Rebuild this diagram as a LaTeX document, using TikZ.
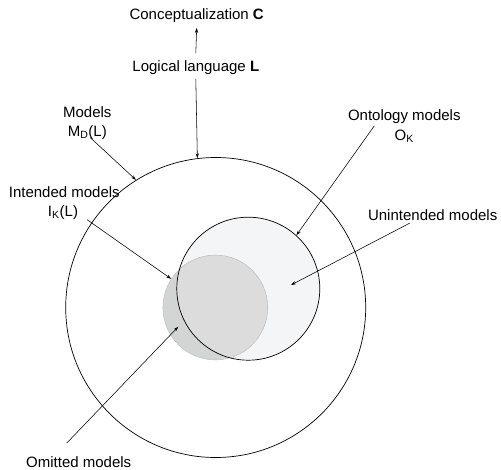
\documentclass[tikz,border=0pt]{standalone}
\usepackage{fontspec}
\setmainfont{Liberation Sans}
\usepackage{tikz}
\usetikzlibrary{arrows.meta}
\definecolor{ontofill}{RGB}{244,245,247}
\definecolor{omitfill}{RGB}{211,212,212}
\definecolor{intfill}{RGB}{220,220,220}
\definecolor{greyline}{RGB}{185,185,185}
\tikzset{lbl/.style={inner sep=0pt, outer sep=0pt, anchor=base, font=\fontsize{15}{18}\selectfont},
%thin arrows with a small filled tip
arr/.style={line width=0.55pt, -{Stealth[length=5pt,width=3.2pt]}},
ring/.style={circle, draw, line width=0.7pt, inner sep=0pt}}

\begin{document}
\begin{tikzpicture}[x=1pt,y=-1pt]
\useasboundingbox (0,0) rectangle (501,469);
% fills
\fill[ontofill] (248.3,288.7) circle (71.5pt);
\fill[omitfill] (215.3,307.5) circle (52.4pt);
\begin{scope}
  \clip (248.3,288.7) circle (71.5pt);
  \fill[intfill] (215.3,307.5) circle (52.4pt);
\end{scope}

% circles
\node[ring, minimum size=300pt] (mset) at (215.7,307.5) {};
\node[ring, draw=greyline, line width=0.4pt, minimum size=104.8pt] (ik) at (215.3,307.5) {};
\node[ring, minimum size=143pt] (onto) at (248.3,288.7) {};

%labels
\node[lbl] (concept) at (196.7,19.2) {Conceptualization \textbf{C}};
\node[lbl] (lang) at (195.8,71.7) {Logical language \textbf{L}};
\node[lbl] (mtop) at (87.3,117) {Models};
\node[lbl] (mbot) at (87.3,136) {M\textsubscript{D}(L)};
\node[lbl] (otop) at (404.3,120.7) {Ontology models};
\node[lbl] (obot) at (404.3,140.5) {O\textsubscript{K}};
\node[lbl] (itop) at (64.3,197.7) {Intended models};
\node[lbl] (ibot) at (63,216.5) {I\textsubscript{K}(L)};
\node[lbl] (ulabel) at (432.7,220) {Unintended models};
\node[lbl] (omit) at (78.7,467.3) {Omitted models};

\coordinate (utip) at (291,285);
\coordinate (otip) at (178.3,326.7);

% arrows
\draw[arr] ([yshift=7.5pt]lang.north) -- ([yshift=-5.6pt]concept.south);
\draw[arr] ([yshift=-4.4pt]lang.south) -- (mset.97.5);
\draw[arr] ([xshift=3pt,yshift=1.5pt]mbot.south) -- (mset.122.8);
\draw[arr] ([xshift=-30pt,yshift=-2pt]otop.south) -- (onto.48.3);
\draw[arr] ([xshift=9pt]ibot.south east) -- (ik.147.1);
\draw[arr] ([xshift=-23pt,yshift=-3pt]ulabel.south) -- (utip);
\draw[arr] ([xshift=-12pt,yshift=13.3pt]omit.north) -- (otip);
\end{tikzpicture}
\end{document}
